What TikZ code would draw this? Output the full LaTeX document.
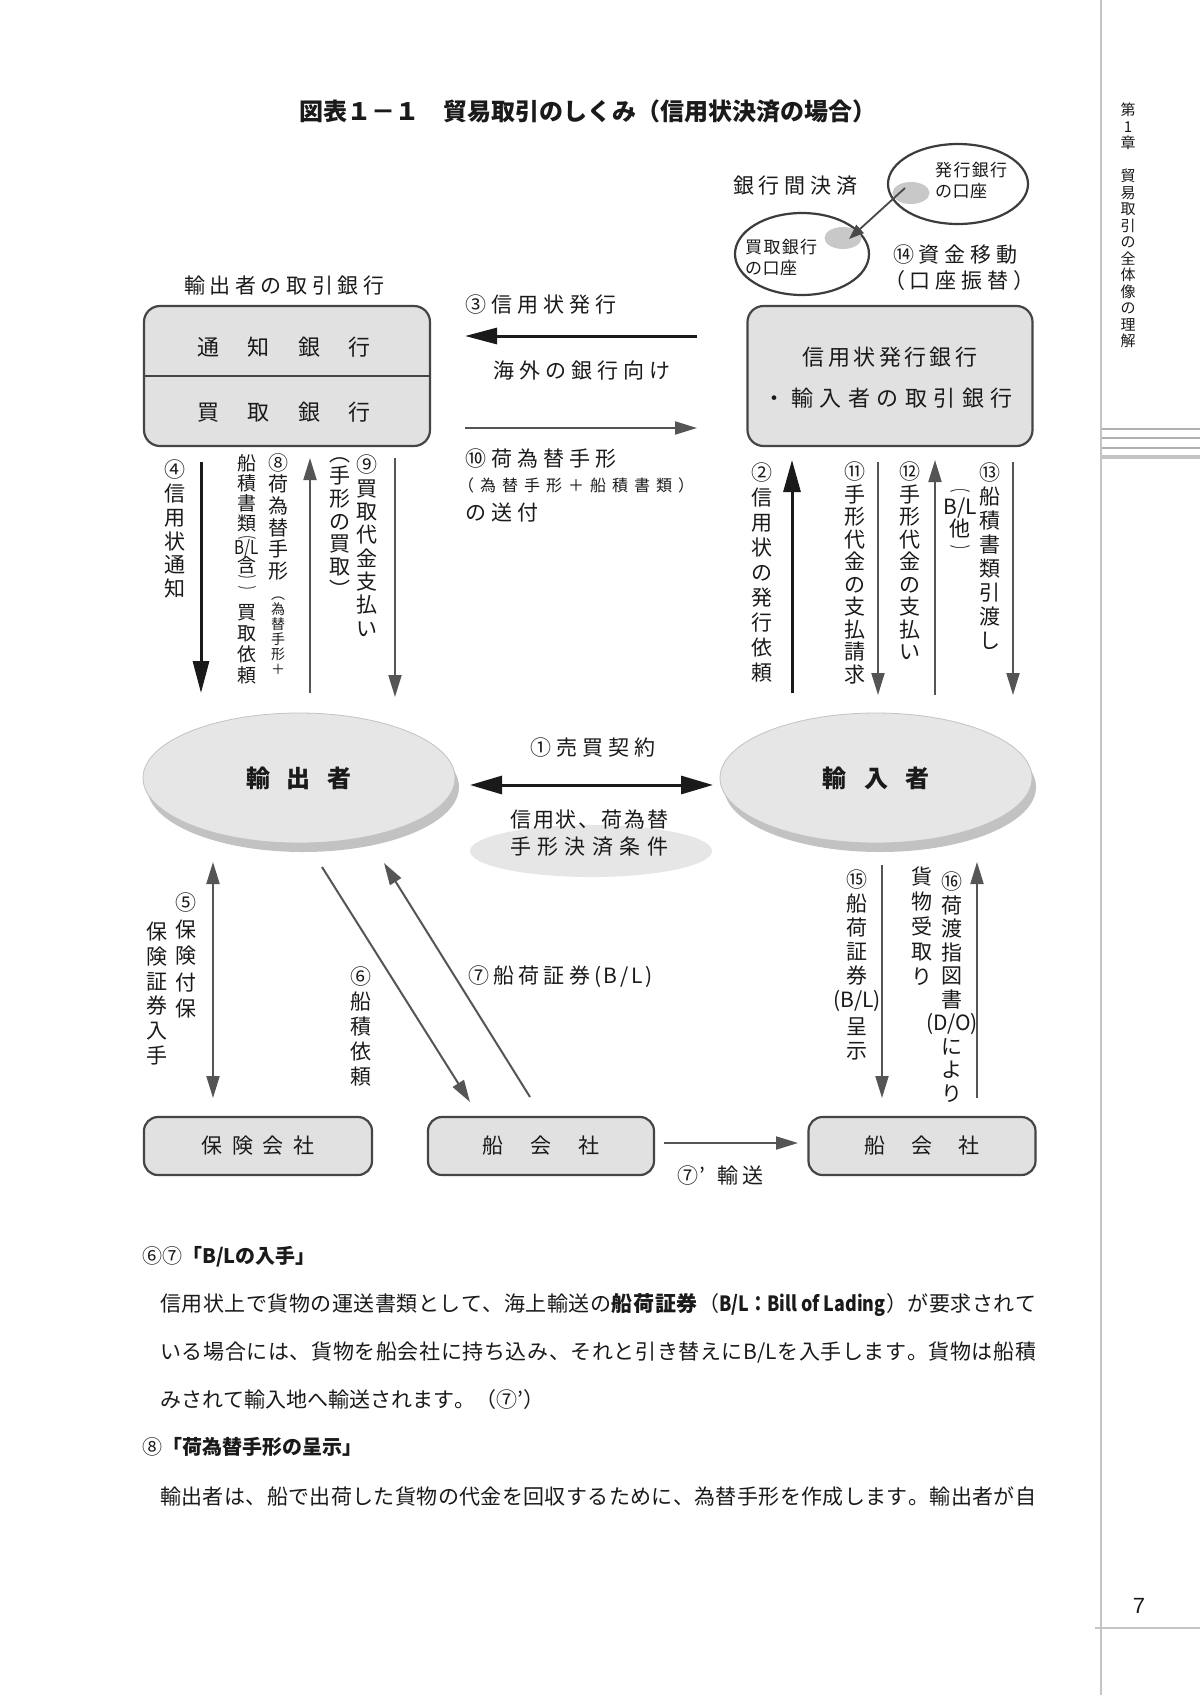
\documentclass[tikz,border=0pt]{standalone}
\usepackage{fontspec}
\setmainfont{Noto Sans CJK JP}
\newfontfamily\numfont{Liberation Sans}
\usetikzlibrary{arrows.meta,shapes.geometric,shadows}
\definecolor{ink}{HTML}{1A1A1A}
\definecolor{boxfill}{HTML}{E1E1E1}
\definecolor{boxline}{HTML}{454545}
\definecolor{garrow}{HTML}{555555}
\definecolor{ellfill}{HTML}{E6E6E6}
\definecolor{ellshadow}{HTML}{C2C2C2}
\definecolor{blob}{HTML}{C8C8C8}
\definecolor{rulegray}{HTML}{C4C4C4}
\def\sprend{\sprend}
\def\sprx#1#2{#1\ifx\sprend#2\else\hskip 0pt plus 1fil\relax\expandafter\sprx\expandafter#2\fi}
\newcommand\spr[2]{\makebox[#1pt][s]{\sprx#2\sprend}}
\newcommand\jl[1]{\sprx#1\sprend}
\newcommand\gl{\hskip 0pt plus 1fil\relax}
\newcommand\hp[1]{\scalebox{1}[0.5]{#1}}
\begin{document}
\begin{tikzpicture}[x=1pt,y=-1pt,
  lbl/.style={inner sep=0pt, text=ink, font=\fontsize{21}{24}\selectfont},
  lblw/.style={lbl, anchor=west},
  vcol/.style n args={2}{inner sep=0pt, text=ink, anchor=north, align=center, font=\fontsize{#1}{#2}\selectfont},
  vch/.style={inner sep=0pt, text=ink, font=\fontsize{#1}{#1}\selectfont},
  bankbox/.style={rectangle, draw=boxline, fill=boxfill, line width=2.2pt, rounded corners=16pt, inner sep=0pt},
  corpbox/.style={rectangle, draw=boxline, fill=boxfill, line width=2.2pt, rounded corners=14pt, inner sep=0pt, minimum height=58pt, text=ink, font=\fontsize{21}{24}\selectfont},
  party/.style={ellipse, fill=ellfill, draw=ellfill!85!black, line width=0.8pt, minimum width=312pt, minimum height=130pt, inner sep=0pt, drop shadow={shadow xshift=4pt, shadow yshift=-9pt, fill=ellshadow, opacity=1}, text=ink, font=\bfseries\fontsize{24}{28}\selectfont},
  acct/.style={ellipse, draw=ink!85, line width=2.2pt, fill=white, inner sep=0pt},
  blk/.style={draw=ink, line width=3pt, -{Triangle[length=32pt,width=16pt]}},
  gry/.style={draw=garrow, line width=2pt, -{Triangle[length=22pt,width=13pt]}},
  body/.style={inner sep=0pt, anchor=west, text=ink, font=\fontsize{21}{24}\selectfont},
]
\useasboundingbox (0,0) rectangle (1200,1695);
\fill[white] (0,0) rectangle (1200,1695);

% ---------- page margin ----------
\draw[rulegray, line width=2.5pt] (1101,0) -- (1101,1695);
\draw[rulegray!90!black, line width=1.3pt] (1102,429) -- (1200,429);
\draw[rulegray!90!black, line width=1.3pt] (1102,438) -- (1200,438);
\draw[rulegray!90!black, line width=1.3pt] (1102,448) -- (1200,448);
\draw[rulegray, line width=4pt] (1102,457) -- (1200,457);
\draw[rulegray, line width=2pt] (1095,1628) -- (1200,1628);
\node[vcol={15}{16.5}] (side) at (1128,103) {第\\1\\章\\　\\貿\\易\\取\\引\\の\\全\\体\\像\\の\\理\\解};
\node[inner sep=0pt, text=ink, font=\numfont\fontsize{22}{24}\selectfont] (pageno) at (1139,1606) {7};

% ---------- title ----------
\node[inner sep=0pt, text=ink, font=\bfseries\fontsize{24}{28}\selectfont] (title) at (588,111) {図表１－１　貿易取引のしくみ（信用状決済の場合）};

% ---------- interbank settlement ----------
\node[lblw] (ginko) at (733,186) {\spr{124}{銀行間決済}};
\node[acct, minimum width=140pt, minimum height=80pt] (accA) at (958,184) {};
\node[acct, minimum width=134pt, minimum height=82pt] (accB) at (802,254) {};
\node[ellipse, fill=blob, inner sep=0pt, minimum width=37pt, minimum height=22pt] (gA) at (911,193) {};
\node[ellipse, fill=blob, inner sep=0pt, minimum width=37pt, minimum height=22pt] (gB) at (843,238) {};
\node[lblw, font=\fontsize{17}{20}\selectfont] (accAt1) at (935,170) {\spr{72}{発行銀行}};
\node[lblw, font=\fontsize{17}{20}\selectfont] (accAt2) at (935,191) {\spr{52}{の口座}};
\node[lblw, font=\fontsize{17}{20}\selectfont] (accBt1) at (745,247) {\spr{72}{買取銀行}};
\node[lblw, font=\fontsize{17}{20}\selectfont] (accBt2) at (745,268) {\spr{52}{の口座}};
\coordinate (ca1) at (905,188);
\coordinate (ca2) at (849,239);
\draw[draw=ink!80, line width=1.8pt, -{Triangle[length=15pt,width=11pt]}] (ca1) -- (ca2);
\node[lblw] (shikin) at (893,255) {\spr{124}{⑭資金移動}};
\node[lblw] (furikae) at (884,281) {\spr{150}{（口座振替）}};

% ---------- banks ----------
\node[lblw] (lbanklbl) at (184,286) {\spr{200}{輸出者の取引銀行}};
\node[bankbox, minimum width=286pt, minimum height=140pt] (lbank) at (287,376) {};
\draw[draw=boxline, line width=2.2pt] (lbank.west) -- (lbank.east);
\node[lbl, font=\fontsize{22}{24}\selectfont] (tsuchi) at (284,347) {\spr{173}{通知銀行}};
\node[lbl, font=\fontsize{22}{24}\selectfont] (kaitori) at (284,412) {\spr{173}{買取銀行}};

\node[bankbox, minimum width=285pt, minimum height=140pt] (rbank) at (890,376) {};
\node[lbl, font=\fontsize{22}{24}\selectfont] (rb1) at (890,357) {\spr{175}{信用状発行銀行}};
\node[lbl, font=\fontsize{22}{24}\selectfont] (rb2) at (888,398) {\spr{250}{・輸入者の取引銀行}};

% ---------- between banks ----------
\node[lblw] (t3) at (465,305) {\spr{151}{③信用状発行}};
\node[lblw] (t3b) at (493,371) {\spr{177}{海外の銀行向け}};
\node[lblw] (t10) at (465,459) {\spr{151}{⑩荷為替手形}};
\node[lblw, font=\fontsize{16}{18}\selectfont] (t10b) at (458,485) {\spr{236}{（為替手形＋船積書類）}};
\node[lblw] (t10c) at (465,513) {\spr{73}{の送付}};
\coordinate (a3s) at (697,336); \coordinate (a3e) at (465,336);
\coordinate (a10s) at (465,428); \coordinate (a10e) at (697,428);
\draw[blk] (a3s) -- (a3e);
\draw[gry] (a10s) -- (a10e);

% ---------- vertical labels under banks ----------
\node[vcol={21}{23.7}] (c4) at (175,460) {④\\信\\用\\状\\通\\知};
\node[vcol={19}{20}] (c8a) at (247,454) {船\\積\\書\\類};
\node[vch=19] (c8p1) at (247,538) {\hp{︵}};
\node[vch=19] (c8bl) at (247,549) {\scalebox{0.8}[1]{B/L}};
\node[vch=19] (c8h) at (247,565) {含};
\node[vch=19] (c8p2) at (247,580) {\hp{︶}};
\node[vch=19] (c8p3) at (247,591) {\hp{︶}};
\node[vcol={19}{21}] (c8c) at (247,604) {買\\取\\依\\頼};
\node[vcol={20}{21.7}] (c8) at (278,453) {⑧\\荷\\為\\替\\手\\形};
\node[vcol={14}{15}] (c8s) at (278,597) {︵\\為\\替\\手\\形\\＋};
\node[vcol={21}{22.7}] (c9b) at (340,457) {︵\\手\\形\\の\\買\\取\\︶};
\node[vcol={21}{23.3}] (c9) at (367,455) {⑨\\買\\取\\代\\金\\支\\払\\い};

\node[vcol={21}{25}] (c2) at (762,463) {②\\信\\用\\状\\の\\発\\行\\依\\頼};
\node[vcol={21}{22.5}] (c11) at (855,462) {⑪\\手\\形\\代\\金\\の\\支\\払\\請\\求};
\node[vcol={21}{22.5}] (c12) at (910,462) {⑫\\手\\形\\代\\金\\の\\支\\払\\い};
\node[vch=21] (c13p1) at (960,491) {\hp{︵}};
\node[vch=21] (c13bl) at (960,508) {B/L};
\node[vch=21] (c13h) at (960,529) {他};
\node[vch=21] (c13p2) at (960,550) {\hp{︶}};
\node[vcol={21}{24}] (c13) at (990,463) {⑬\\船\\積\\書\\類\\引\\渡\\し};

\coordinate (a4s) at (201,462); \coordinate (a4e) at (201,693);
\coordinate (a8s) at (310,693); \coordinate (a8e) at (310,458);
\coordinate (a9s) at (395,458); \coordinate (a9e) at (395,697);
\coordinate (a2s) at (792,693); \coordinate (a2e) at (792,460);
\coordinate (a11s) at (878,462); \coordinate (a11e) at (878,695);
\coordinate (a12s) at (935,695); \coordinate (a12e) at (935,460);
\coordinate (a13s) at (1013,462); \coordinate (a13e) at (1013,695);
\draw[blk] (a4s) -- (a4e);
\draw[gry] (a8s) -- (a8e);
\draw[gry] (a9s) -- (a9e);
\draw[blk, -{Triangle[length=32pt,width=17pt]}] (a2s) -- (a2e);
\draw[gry] (a11s) -- (a11e);
\draw[gry] (a12s) -- (a12e);
\draw[gry] (a13s) -- (a13e);

% ---------- exporter / importer ----------
\node[party] (exporter) at (299,778) {\spr{106}{輸出者}};
\node[party] (importer) at (876,778) {\spr{107}{輸入者}};
\node[lblw] (t1) at (530,748) {\spr{125}{①売買契約}};
\coordinate (a1s) at (470,785); \coordinate (a1e) at (713,785);
\draw[draw=ink, line width=3pt, {Triangle[length=32pt,width=18pt]}-{Triangle[length=32pt,width=18pt]}] (a1s) -- (a1e);
\node[ellipse, fill=ellfill, inner sep=0pt, minimum width=242pt, minimum height=52pt] (terms) at (591,851) {};
\node[lblw] (terms1) at (510,820) {\spr{158}{信用状、荷為替}};
\node[lblw] (terms2) at (510,847) {\spr{158}{手形決済条件}};

% ---------- lower part ----------
\node[vcol={21}{26.5}] (c5) at (186,893) {⑤\\保\\険\\付\\保};
\node[vcol={21}{24.7}] (c5b) at (157,922) {保\\険\\証\\券\\入\\手};
\node[vcol={21}{25}] (c6) at (361,967) {⑥\\船\\積\\依\\頼};
\node[lblw] (t7) at (468,977) {\spr{122}{⑦船荷証券}\kern4pt\spr{58}{(B/L)}};
\node[vcol={21}{24}] (c15) at (857,870) {⑮\\船\\荷\\証\\券\\\spr{48}{(B/L)}\\[3pt]呈\\示};
\node[vcol={21}{25}] (c16b) at (922,867) {貨\\物\\受\\取\\り};
\node[vcol={21}{23.5}] (c16) at (952,872) {⑯\\荷\\渡\\指\\図\\書\\(D/O)\\に\\よ\\り};

\node[corpbox, minimum width=228pt] (hoken) at (258,1146) {\spr{113}{保険会社}};
\node[corpbox, minimum width=226pt] (funeL) at (541,1146) {\spr{117}{船会社}};
\node[corpbox, minimum width=227pt] (funeR) at (922,1146) {\spr{115}{船会社}};
\node[lblw] (t7b) at (677,1176) {⑦\kern1pt’\kern12pt 輸\kern4pt 送};

\coordinate (a5s) at (213,862); \coordinate (a5e) at (213,1098);
\coordinate (a6s) at (322,867); \coordinate (a6e) at (470,1102);
\coordinate (a7s) at (530,1097); \coordinate (a7e) at (384,863);
\coordinate (a7bs) at (664,1143); \coordinate (a7be) at (798,1143);
\coordinate (a15s) at (882,865); \coordinate (a15e) at (882,1098);
\coordinate (a16s) at (977,1098); \coordinate (a16e) at (977,862);
\draw[gry, {Triangle[length=22pt,width=13pt]}-{Triangle[length=22pt,width=13pt]}] (a5s) -- (a5e);
\draw[gry] (a6s) -- (a6e);
\draw[gry] (a7s) -- (a7e);
\draw[gry] (a7bs) -- (a7be);
\draw[gry] (a15s) -- (a15e);
\draw[gry] (a16s) -- (a16e);

% ---------- body text ----------
\node[body, font=\fontsize{20}{24}\selectfont] (h1) at (142,1257) {⑥⑦{\bfseries「B/Lの入手」}};
\node[body] (p1) at (160,1305) {\makebox[876pt][s]{\jl{信用状上で貨物の運送書類として、海上輸送の}\gl\textbf{\jl{船荷証券}}\gl（\gl\textbf{\scalebox{0.85}[1]{B/L：Bill of Lading}}\gl）\gl\jl{が要求されて}}};
\node[body] (p2) at (160,1352) {\makebox[876pt][s]{\jl{いる場合には、貨物を船会社に持ち込み、それと引き替えに}\gl B/L\gl\jl{を入手します。貨物は船積}}};
\node[body] (p3) at (160,1400) {\makebox[380pt][s]{\jl{みされて輸入地へ輸送されます。（⑦’）}}};
\node[body, font=\fontsize{20}{24}\selectfont] (h2) at (142,1447) {⑧{\bfseries「荷為替手形の呈示」}};
\node[body] (p4) at (160,1497) {\makebox[876pt][s]{\jl{輸出者は、船で出荷した貨物の代金を回収するために、為替手形を作成します。輸出者が自}}};
\end{tikzpicture}
\end{document}
